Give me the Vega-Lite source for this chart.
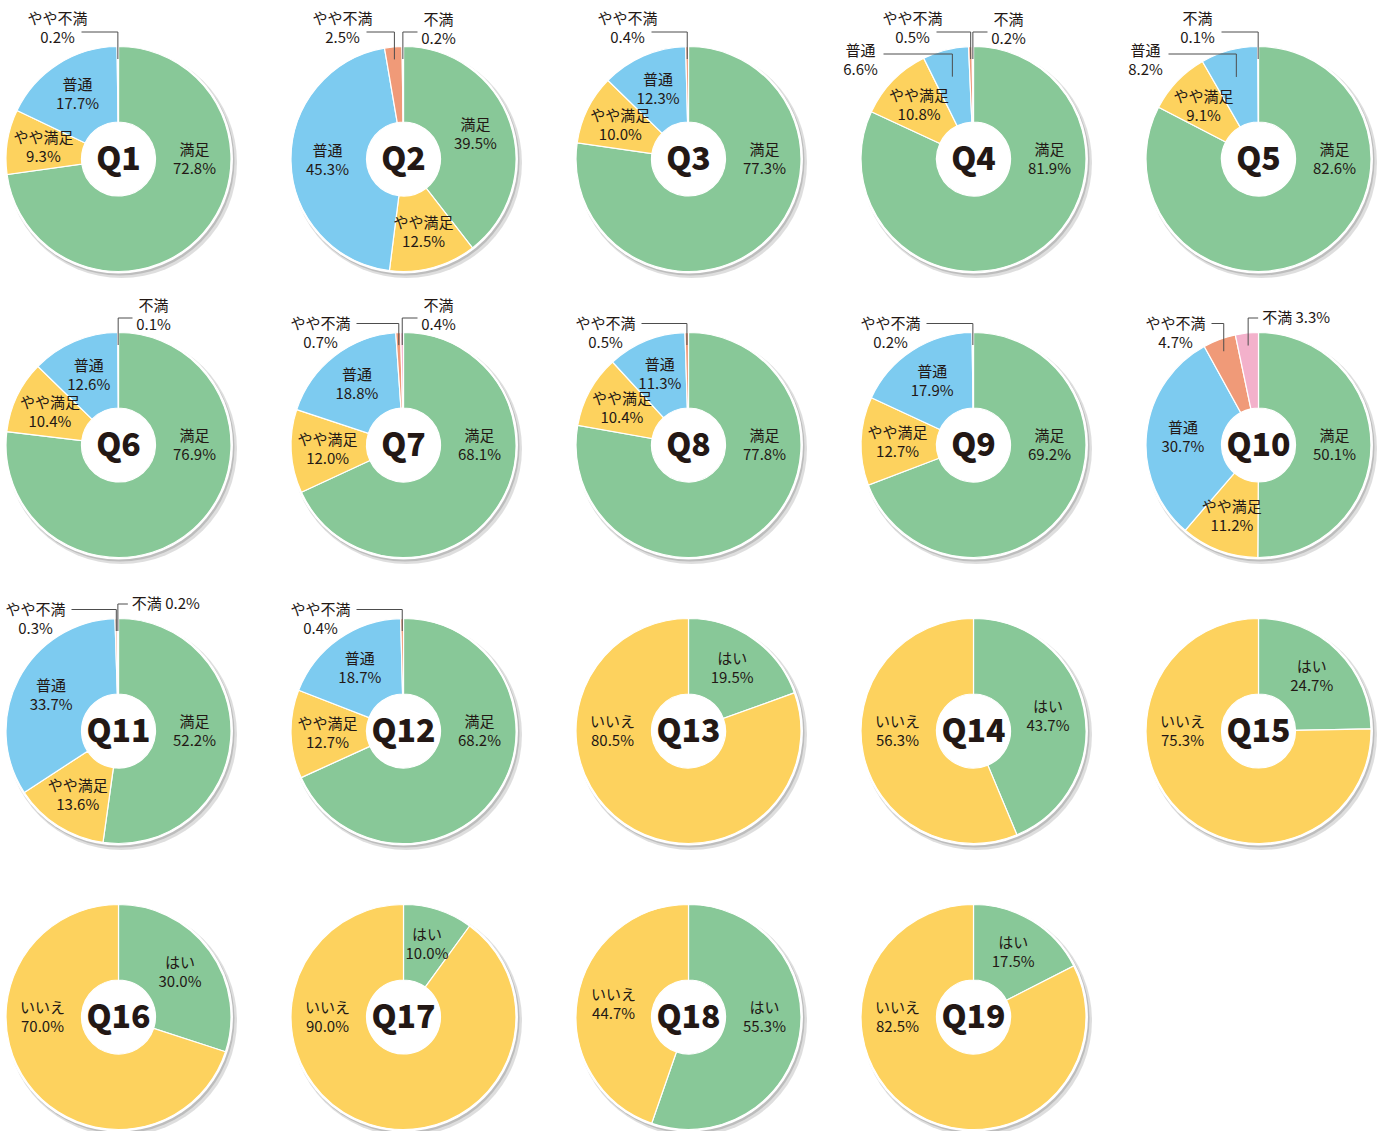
{
  "$schema": "https://vega.github.io/schema/vega-lite/v6.json",
  "padding": {"left": 0.5, "top": 10, "right": 0, "bottom": 0},
  "bounds": "flush",
  "background": "white",
  "config": {
    "view": {"stroke": null},
    "font": "Noto Sans CJK JP",
    "header": {"labels": false, "title": null, "labelColor": "transparent", "labelFontSize": 1, "labelPadding": 0},
    "headerFacet": {"labels": false, "title": null, "labelColor": "transparent", "labelFontSize": 1, "labelPadding": 0}
  },
  "data": {"values": [
    {"q":"Q1","c":"満足","p":72.8},{"q":"Q1","c":"やや満足","p":9.3},{"q":"Q1","c":"普通","p":17.7},{"q":"Q1","c":"やや不満","p":0.2},
    {"q":"Q2","c":"満足","p":39.5},{"q":"Q2","c":"やや満足","p":12.5},{"q":"Q2","c":"普通","p":45.3},{"q":"Q2","c":"やや不満","p":2.5},{"q":"Q2","c":"不満","p":0.2},
    {"q":"Q3","c":"満足","p":77.3},{"q":"Q3","c":"やや満足","p":10.0},{"q":"Q3","c":"普通","p":12.3},{"q":"Q3","c":"やや不満","p":0.4},
    {"q":"Q4","c":"満足","p":81.9},{"q":"Q4","c":"やや満足","p":10.8},{"q":"Q4","c":"普通","p":6.6},{"q":"Q4","c":"やや不満","p":0.5},{"q":"Q4","c":"不満","p":0.2},
    {"q":"Q5","c":"満足","p":82.6},{"q":"Q5","c":"やや満足","p":9.1},{"q":"Q5","c":"普通","p":8.2},{"q":"Q5","c":"不満","p":0.1},
    {"q":"Q6","c":"満足","p":76.9},{"q":"Q6","c":"やや満足","p":10.4},{"q":"Q6","c":"普通","p":12.6},{"q":"Q6","c":"不満","p":0.1},
    {"q":"Q7","c":"満足","p":68.1},{"q":"Q7","c":"やや満足","p":12.0},{"q":"Q7","c":"普通","p":18.8},{"q":"Q7","c":"やや不満","p":0.7},{"q":"Q7","c":"不満","p":0.4},
    {"q":"Q8","c":"満足","p":77.8},{"q":"Q8","c":"やや満足","p":10.4},{"q":"Q8","c":"普通","p":11.3},{"q":"Q8","c":"やや不満","p":0.5},
    {"q":"Q9","c":"満足","p":69.2},{"q":"Q9","c":"やや満足","p":12.7},{"q":"Q9","c":"普通","p":17.9},{"q":"Q9","c":"やや不満","p":0.2},
    {"q":"Q10","c":"満足","p":50.1},{"q":"Q10","c":"やや満足","p":11.2},{"q":"Q10","c":"普通","p":30.7},{"q":"Q10","c":"やや不満","p":4.7},{"q":"Q10","c":"不満","p":3.3},
    {"q":"Q11","c":"満足","p":52.2},{"q":"Q11","c":"やや満足","p":13.6},{"q":"Q11","c":"普通","p":33.7},{"q":"Q11","c":"やや不満","p":0.3},{"q":"Q11","c":"不満","p":0.2},
    {"q":"Q12","c":"満足","p":68.2},{"q":"Q12","c":"やや満足","p":12.7},{"q":"Q12","c":"普通","p":18.7},{"q":"Q12","c":"やや不満","p":0.4},
    {"q":"Q13","c":"はい","p":19.5},{"q":"Q13","c":"いいえ","p":80.5},
    {"q":"Q14","c":"はい","p":43.7},{"q":"Q14","c":"いいえ","p":56.3},
    {"q":"Q15","c":"はい","p":24.7},{"q":"Q15","c":"いいえ","p":75.3},
    {"q":"Q16","c":"はい","p":30.0},{"q":"Q16","c":"いいえ","p":70.0},
    {"q":"Q17","c":"はい","p":10.0},{"q":"Q17","c":"いいえ","p":90.0},
    {"q":"Q18","c":"はい","p":55.3},{"q":"Q18","c":"いいえ","p":44.7},
    {"q":"Q19","c":"はい","p":17.5},{"q":"Q19","c":"いいえ","p":82.5}
  ]},
  "transform": [
    {"calculate": "indexof(['満足','やや満足','普通','やや不満','不満','はい','いいえ'], datum.c)", "as": "k"},
    {"calculate": "toNumber(slice(datum.q, 1))", "as": "n"},
    {"calculate": "floor((datum.n - 1) / 5)", "as": "row"},
    {"window": [{"op": "sum", "field": "p", "as": "cum"}], "groupby": ["q"], "sort": [{"field": "k"}], "frame": [null, 0]},
    {"calculate": "datum.cum - datum.p/2", "as": "mid"},
    {"calculate": "datum.mid*PI/50", "as": "a"},
    {"calculate": "datum.c === 'やや不満' ? 1 : 0", "as": "isY"},
    {"calculate": "datum.c === '普通' && datum.p < 9 ? 1 : 0", "as": "isL"},
    {"joinaggregate": [{"op": "sum", "field": "isY", "as": "ny"}, {"op": "sum", "field": "isL", "as": "nl"}], "groupby": ["q"]},
    {"calculate": "datum.p >= 9 ? 'in' : datum.c === '普通' ? 'L' : (datum.c === 'やや不満' || (datum.ny === 0 && datum.nl > 0)) ? 'TL' : (datum.n >= 10 ? 'TR1' : 'TR')", "as": "pos"},
    {"calculate": "datum.p > 50 ? (datum.mid < 50 ? PI/2 : 3*PI/2) : datum.a", "as": "la"},
    {"calculate": "datum.pos === 'L' ? 85 : 100", "as": "re"},
    {"calculate": "datum.re*sin(datum.a)", "as": "xs"},
    {"calculate": "-datum.re*cos(datum.a)", "as": "ys"},
    {"calculate": "datum.pos === 'in' ? 76*sin(datum.la) : datum.pos === 'TL' ? (datum.row === 0 ? -61 : -83) : datum.pos === 'TR' ? 35 : datum.pos === 'TR1' ? datum.xs + 48 : -113", "as": "lx"},
    {"calculate": "datum.pos === 'in' ? -76*cos(datum.la) : datum.pos === 'TL' ? (datum.row === 0 ? -131 : -112) : datum.pos === 'TR' ? -130 : datum.pos === 'TR1' ? -127 : -99", "as": "ly"},
    {"calculate": "datum.pos === 'TR1' ? datum.ly : datum.ly - 9.5", "as": "ty"},
    {"calculate": "datum.pos === 'TL' ? (datum.row === 0 ? -127 : -121.5) : datum.pos === 'TR' ? -127 : datum.pos === 'TR1' ? -127 : -105", "as": "yl"},
    {"calculate": "datum.pos === 'TR' ? datum.lx - 21 : datum.pos === 'TR1' ? datum.xs + 10 : datum.pos === 'L' ? datum.lx + 23 : (datum.row === 0 ? datum.lx + 24 : datum.lx + length(datum.c)*7.5 + 6)", "as": "xh"},
    {"calculate": "datum.pos === 'TR1' ? datum.c + ' ' + format(datum.p, '.1f') + '%' : datum.c + '\\n' + format(datum.p, '.1f') + '%'", "as": "label"}
  ],
  "facet": {
    "field": "q", "type": "nominal",
    "sort": ["Q1","Q2","Q3","Q4","Q5","Q6","Q7","Q8","Q9","Q10","Q11","Q12","Q13","Q14","Q15","Q16","Q17","Q18","Q19"],
    "header": {"labels": false, "title": null}
  },
  "columns": 5,
  "spacing": {"row": 50, "column": 49},
  "spec": {
    "width": 236,
    "height": 236,
    "layer": [
      {
        "transform": [{"filter": "datum.k === 0 || datum.k === 5"}],
        "mark": {"type": "arc", "theta": 0, "theta2": 6.2832, "radius": 115.5, "fill": "#000000", "opacity": 0.13},
        "encoding": {
          "x": {"datum": 3, "type": "quantitative", "scale": {"domain": [-118, 118], "nice": false, "zero": false}, "axis": null},
          "y": {"datum": 3.5, "type": "quantitative", "scale": {"domain": [-118, 118], "nice": false, "zero": false, "reverse": true}, "axis": null}
        }
      },
      {
        "transform": [{"filter": "datum.k === 0 || datum.k === 5"}],
        "mark": {"type": "arc", "theta": 0, "theta2": 6.2832, "radius": 114.5, "fill": "#000000", "opacity": 0.15},
        "encoding": {
          "x": {"datum": 1.5, "type": "quantitative", "scale": {"domain": [-118, 118], "nice": false, "zero": false}, "axis": null},
          "y": {"datum": 2, "type": "quantitative", "scale": {"domain": [-118, 118], "nice": false, "zero": false, "reverse": true}, "axis": null}
        }
      },
      {
        "transform": [{"filter": "datum.k === 0 || datum.k === 5"}],
        "mark": {"type": "arc", "theta": 0, "theta2": 6.2832, "radius": 114.5, "fill": "#ffffff"},
        "encoding": {
          "x": {"datum": 0, "type": "quantitative", "scale": {"domain": [-118, 118], "nice": false, "zero": false}, "axis": null},
          "y": {"datum": 0, "type": "quantitative", "scale": {"domain": [-118, 118], "nice": false, "zero": false, "reverse": true}, "axis": null}
        }
      },
      {
        "mark": {"type": "arc", "radius": 112.5, "innerRadius": 37, "stroke": "#ffffff", "strokeWidth": 1.2},
        "encoding": {
          "theta": {"field": "p", "type": "quantitative", "stack": true},
          "order": {"field": "k", "type": "quantitative"},
          "color": {
            "field": "c", "type": "nominal", "legend": null,
            "scale": {
              "domain": ["満足","やや満足","普通","やや不満","不満","はい","いいえ"],
              "range": ["#88c898","#fdd25e","#7dcbf0","#f09a78","#f3b1cb","#88c898","#fdd25e"]
            }
          }
        }
      },
      {
        "transform": [{"filter": "datum.pos !== 'in'"}],
        "mark": {"type": "rule", "color": "#4d4d4d", "strokeWidth": 1},
        "encoding": {
          "x": {"field": "xs", "type": "quantitative", "scale": {"domain": [-118, 118], "nice": false, "zero": false}, "axis": null},
          "y": {"field": "yl", "type": "quantitative", "scale": {"domain": [-118, 118], "nice": false, "zero": false, "reverse": true}, "axis": null},
          "y2": {"field": "ys"}
        }
      },
      {
        "transform": [{"filter": "datum.pos !== 'in'"}],
        "mark": {"type": "rule", "color": "#4d4d4d", "strokeWidth": 1},
        "encoding": {
          "x": {"field": "xh", "type": "quantitative", "scale": {"domain": [-118, 118], "nice": false, "zero": false}, "axis": null},
          "x2": {"field": "xs"},
          "y": {"field": "yl", "type": "quantitative", "scale": {"domain": [-118, 118], "nice": false, "zero": false, "reverse": true}, "axis": null}
        }
      },
      {
        "mark": {"type": "text", "fontSize": 15, "lineHeight": 19, "lineBreak": "\n", "align": "center", "baseline": "middle", "color": "#231815", "font": "Noto Sans CJK JP"},
        "encoding": {
          "x": {"field": "lx", "type": "quantitative", "scale": {"domain": [-118, 118], "nice": false, "zero": false}, "axis": null},
          "y": {"field": "ty", "type": "quantitative", "scale": {"domain": [-118, 118], "nice": false, "zero": false, "reverse": true}, "axis": null},
          "text": {"field": "label"}
        }
      },
      {
        "transform": [{"filter": "datum.k === 0 || datum.k === 5"}],
        "mark": {"type": "text", "fontSize": 32, "fontWeight": 900, "align": "center", "baseline": "middle", "color": "#231815", "font": "Noto Sans CJK JP", "dy": 1},
        "encoding": {
          "x": {"datum": 0, "type": "quantitative", "scale": {"domain": [-118, 118], "nice": false, "zero": false}, "axis": null},
          "y": {"datum": 0, "type": "quantitative", "scale": {"domain": [-118, 118], "nice": false, "zero": false, "reverse": true}, "axis": null},
          "text": {"field": "q"}
        }
      }
    ]
  }
}
